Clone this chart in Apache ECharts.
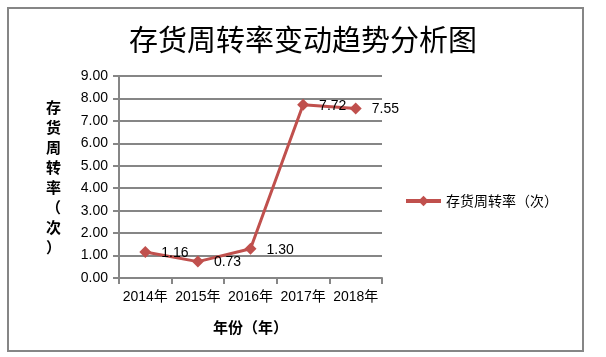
<!DOCTYPE html>
<html>
<head>
<meta charset="utf-8">
<script src="https://cdn.jsdelivr.net/npm/echarts@6/dist/echarts.min.js"></script>
<style>
html,body{margin:0;padding:0;background:#fff;}
#chart{width:606px;height:357px;}
</style>
</head>
<body>
<div id="chart"></div>
<script>
var titleText = '存货周转率变动趋势分析图';
var categories = ['2014年', '2015年', '2016年', '2017年', '2018年'];
var seriesName = '存货周转率（次）';
var values = [1.16, 0.73, 1.30, 7.72, 7.55];
var yAxisName = '存货周转率（次）';
var xAxisName = '年份（年）';

var chart = echarts.init(document.getElementById('chart'), null, {renderer: 'canvas'});
var gridColor = '#868686';
var numFont = '"Liberation Sans", Arial, "Noto Sans CJK SC", sans-serif';
var cjkFont = '"Noto Sans CJK SC", sans-serif';

chart.setOption({
  animation: false,
  backgroundColor: '#fff',
  graphic: [
    {type: 'rect', shape: {x: 8, y: 8, width: 575, height: 343}, style: {fill: 'none', stroke: gridColor, lineWidth: 2}, silent: true}
  ],
  title: {
    text: titleText,
    left: 'center',
    top: 20,
    textStyle: {fontFamily: cjkFont, fontSize: 29, fontWeight: 'normal', color: '#000'}
  },
  legend: {
    left: 399,
    top: 189,
    orient: 'vertical',
    itemWidth: 35,
    itemHeight: 13,
    itemGap: 5,
    lineStyle: {width: 4},
    textStyle: {fontFamily: cjkFont, fontSize: 14, color: '#000'},
    data: [seriesName]
  },
  grid: {left: 119, right: 224, top: 76, bottom: 79, containLabel: false},
  xAxis: {
    type: 'category',
    data: categories,
    boundaryGap: true,
    name: xAxisName,
    nameLocation: 'middle',
    nameGap: 42,
    nameTextStyle: {fontFamily: cjkFont, fontSize: 15, fontWeight: 'bold', color: '#000'},
    axisLine: {lineStyle: {color: gridColor, width: 2}},
    axisTick: {show: true, alignWithLabel: false, length: 6, lineStyle: {color: gridColor, width: 2}},
    axisLabel: {fontFamily: numFont, fontSize: 14, color: '#000', margin: 12, interval: 0}
  },
  yAxis: {
    type: 'value',
    min: 0,
    max: 9,
    interval: 1,
    name: yAxisName.split('').join('\n'),
    nameLocation: 'middle',
    nameRotate: 0,
    nameGap: 58,
    nameTextStyle: {fontFamily: cjkFont, fontSize: 15, fontWeight: 'bold', color: '#000', lineHeight: 20},
    axisLine: {show: true, lineStyle: {color: gridColor, width: 2}},
    axisTick: {show: true, length: 6, lineStyle: {color: gridColor, width: 2}},
    axisLabel: {fontFamily: numFont, fontSize: 14, color: '#000', margin: 11, formatter: function(v){return v.toFixed(2);}},
    splitLine: {show: true, lineStyle: {color: gridColor, width: 2}}
  },
  series: [{
    name: seriesName,
    type: 'line',
    data: values,
    symbol: 'diamond',
    symbolSize: 12,
    itemStyle: {color: '#C0504D'},
    lineStyle: {color: '#C0504D', width: 3},
    label: {
      show: true,
      position: 'right',
      distance: 10,
      offset: [0, 1],
      fontFamily: numFont,
      fontSize: 14,
      color: '#000',
      formatter: function(p){return p.value.toFixed(2);}
    }
  }]
});
</script>
</body>
</html>
